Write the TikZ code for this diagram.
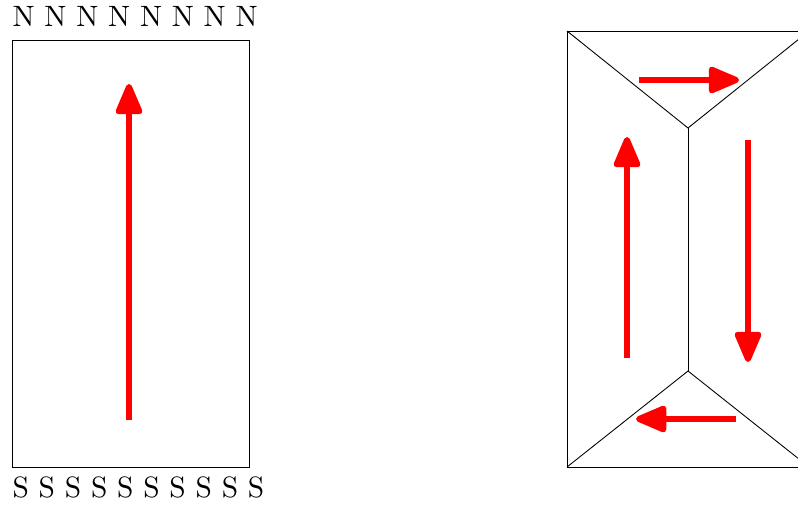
\documentclass[tikz,border=0pt]{standalone}
\usetikzlibrary{arrows.meta}
\tikzset{
  flow/.style={draw=red, line width=2pt, -{Triangle[length=12pt,width=9.5pt,round]}},
  frame/.style={draw=black, line width=0.3pt},
  lbl/.style={inner sep=0pt, anchor=base west, font=\fontsize{10}{12}\selectfont}
}
\begin{document}
\begin{tikzpicture}[x=0.34pt, y=-0.34pt]
\useasboundingbox (0,0) rectangle (798,510);
\clip (0,0) rectangle (798,510);
% left panel
\node[lbl] (north) at (12,26) {N N N N N N N N};
\node[lbl] (south) at (12,497) {S S S S S S S S S S};
\draw[frame] (12,40) rectangle (249,467);
\coordinate (la) at (129,420);
\coordinate (lb) at (129,84);
\draw[flow] (la) -- (lb);
% right panel
\coordinate (tl) at (567,31);
\coordinate (tr) at (809,31);
\coordinate (bl) at (567,467);
\coordinate (br) at (809,467);
\coordinate (vu) at (688,128);
\coordinate (vd) at (688,371);
\draw[frame] (tl) -- (tr) -- (br) -- (bl) -- cycle;
\draw[frame] (tl) -- (vu) -- (tr);
\draw[frame] (vu) -- (vd);
\draw[frame] (bl) -- (vd) -- (br);
\coordinate (t1) at (639,80);  \coordinate (t2) at (739,80);
\coordinate (u1) at (627,358); \coordinate (u2) at (627,137);
\coordinate (d1) at (748,140); \coordinate (d2) at (748,362);
\coordinate (b1) at (736,419); \coordinate (b2) at (636,419);
\draw[flow] (t1) -- (t2);
\draw[flow] (u1) -- (u2);
\draw[flow] (d1) -- (d2);
\draw[flow] (b1) -- (b2);
\end{tikzpicture}
\end{document}
